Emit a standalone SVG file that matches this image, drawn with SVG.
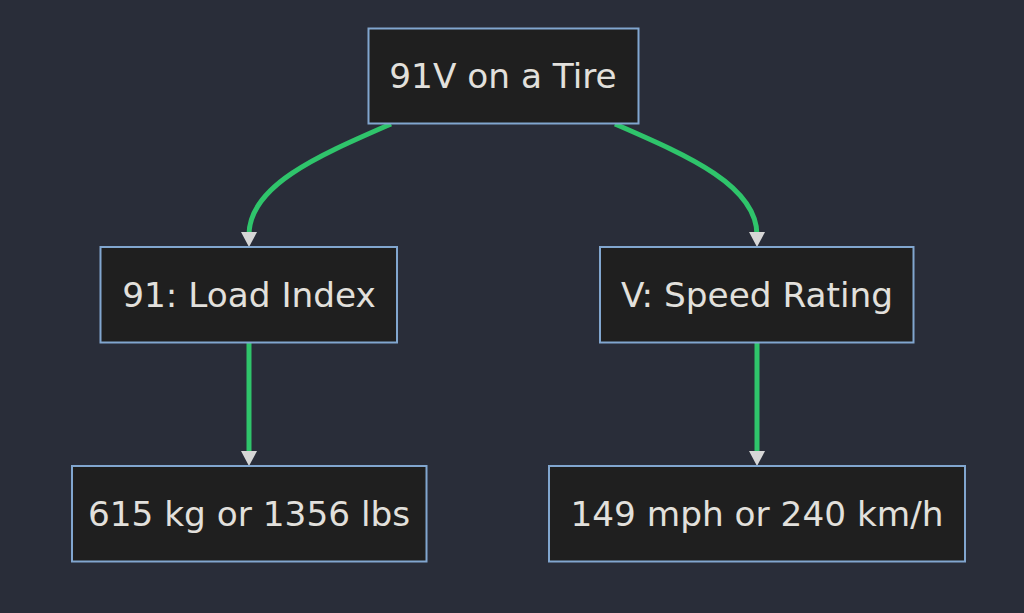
<svg xmlns="http://www.w3.org/2000/svg" width="1024" height="613" viewBox="0 0 1024 613">
<defs>
<style>
.node rect{fill:#1f1f1f;stroke:#81a6cf;stroke-width:2}
.node text{font-family:"DejaVu Sans",Verdana,sans-serif;font-size:34.3px;fill:#e2e0dc;text-anchor:middle}
.edge{fill:none;stroke:#2fc46b;stroke-width:5}
</style>
<marker id="arrow" markerUnits="userSpaceOnUse" markerWidth="16" markerHeight="16" refX="3" refY="8" orient="auto" viewBox="0 0 15 16">
<path d="M0,0 L15,8 L0,16 Z" fill="#d6d6d6"/>
</marker>
</defs>
<rect width="1024" height="613" fill="#292d39"/>
<g id="edges">
<path class="edge" d="M391,124 C320,155 249,185 249,235" marker-end="url(#arrow)"/>
<path class="edge" d="M615,124 C686,155 757,185 757,235" marker-end="url(#arrow)"/>
<path class="edge" d="M249,343 L249,454" marker-end="url(#arrow)"/>
<path class="edge" d="M757,343 L757,454" marker-end="url(#arrow)"/>
</g>
<g id="n-root" class="node"><rect x="368.5" y="28.5" width="270" height="95"/><text x="503" y="88">91V on a Tire</text></g>
<g id="n-load" class="node"><rect x="100.5" y="247" width="296.5" height="95.5"/><text x="249" y="307">91: Load Index</text></g>
<g id="n-speed" class="node"><rect x="600" y="247" width="313.5" height="95.5"/><text x="757" y="307">V: Speed Rating</text></g>
<g id="n-kg" class="node"><rect x="72" y="466" width="354.5" height="95.5"/><text x="249" y="526">615 kg or 1356 lbs</text></g>
<g id="n-mph" class="node"><rect x="549" y="466" width="416" height="95.5"/><text x="757" y="526">149 mph or 240 km/h</text></g>
</svg>
